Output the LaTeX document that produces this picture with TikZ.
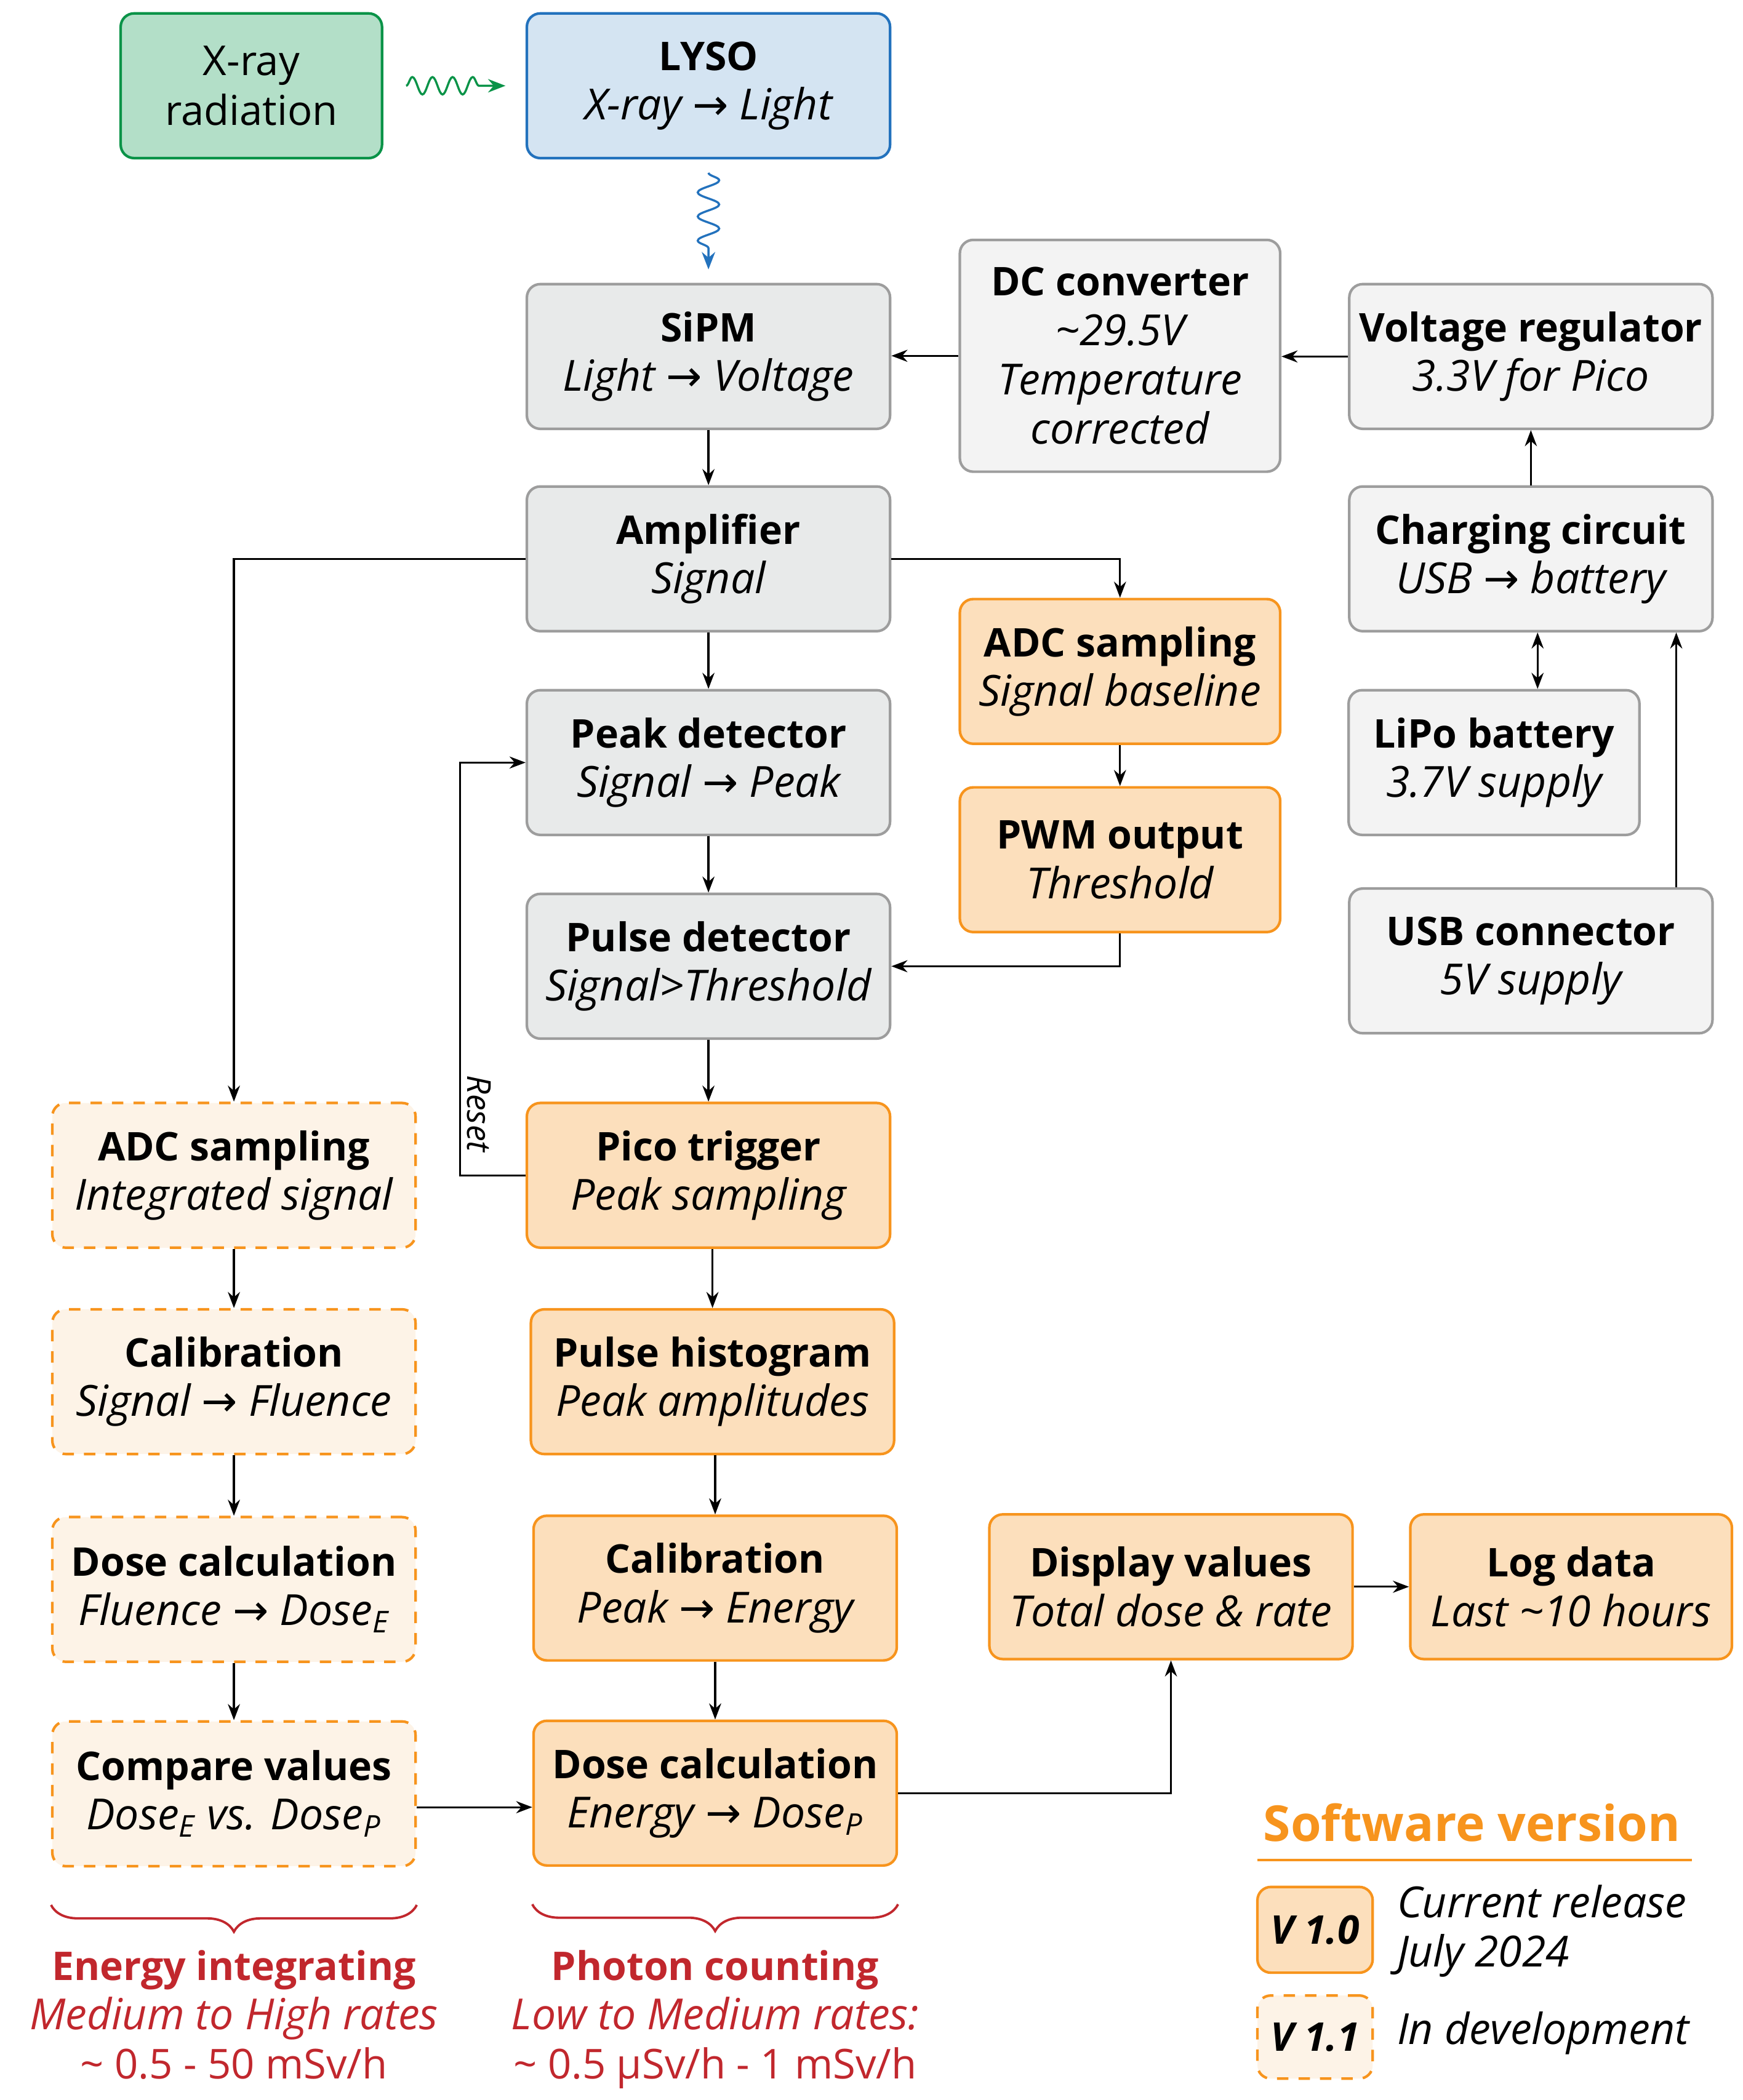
\documentclass[tikz,border=0pt]{standalone}
\usepackage{fontspec}
\setmainfont{Open Sans}
\newfontfamily\symfont{DejaVu Sans}
\newcommand\toarrow{{\symfont\mdseries\upshape →}}
\newcommand\ttl[1]{{\fontsize{16.8}{21}\selectfont\bfseries #1}}
\newcommand\dsc[1]{{\fontsize{18.2}{21}\selectfont\itshape #1}}
\usetikzlibrary{arrows.meta,decorations.pathmorphing,decorations.pathreplacing}
\definecolor{hwfill}{HTML}{E8EAEA}
\definecolor{pwrfill}{HTML}{F3F3F3}
\definecolor{hwedge}{HTML}{9D9D9D}
\definecolor{swfill}{HTML}{FCDFBC}
\definecolor{swedge}{HTML}{F7941D}
\definecolor{devfill}{HTML}{FDF3E7}
\definecolor{xgreen}{HTML}{0A9348}
\definecolor{xgreenfill}{HTML}{B3DFC8}
\definecolor{xblue}{HTML}{2372BD}
\definecolor{xbluefill}{HTML}{D4E4F2}
\definecolor{xred}{HTML}{C1272D}
\begin{document}
\begin{tikzpicture}[x=0.02cm,y=-0.02cm,font=\fontsize{17.5}{21}\selectfont,
	box/.style={rounded corners=0.2cm,line width=1.1pt,align=center,minimum width=5.42cm,minimum height=2.16cm,inner sep=2pt},
	hw/.style={box,draw=hwedge,fill=hwfill},
	pwr/.style={box,draw=hwedge,fill=pwrfill},
	sw/.style={box,draw=swedge,fill=swfill},
	dev/.style={box,draw=swedge,fill=devfill,dash pattern=on 0.17cm off 0.15cm},
	link/.style={line width=0.85pt,-{Stealth[length=0.24cm,width=0.18cm]}},
	wave/.style={line width=0.9pt,decorate,-{Stealth[length=0.26cm,width=0.2cm]}},
	modelabel/.style={text=xred,align=center}]
	\useasboundingbox (0,0) rectangle (1300,1567);
		% source and crystal
			\node[box,draw=xgreen,fill=xgreenfill,minimum width=3.9cm] (xray) at (187.5,64) {X-ray\\radiation};
			\node[box,draw=xblue,fill=xbluefill] (lyso) at (528.5,64) {\ttl{LYSO}\\\dsc{X-ray \toarrow{} Light}};
		% analog chain
			\foreach \n/\y/\hdr/\txt in {sipm/266/SiPM/Light \toarrow{} Voltage,amp/417/Amplifier/Signal,peak/569/Peak detector/Signal \toarrow{} Peak,pulse/721/Pulse detector/Signal>Threshold}{
				\node[hw] (\n) at (528.5,\y) {\ttl{\hdr}\\\dsc{\txt}};
				}
			\node[sw,minimum width=4.78cm] (adcb) at (835.5,501) {\ttl{ADC sampling}\\\dsc{Signal baseline}};
			\node[sw,minimum width=4.78cm] (pwm) at (835.5,641.5) {\ttl{PWM output}\\\dsc{Threshold}};
		% power supply
			\node[pwr,minimum width=4.78cm,minimum height=3.46cm] (dcdc) at (835.5,265.5) {\ttl{DC converter}\\\dsc{\textasciitilde29.5V}\\\dsc{Temperature}\\\dsc{corrected}};
			\node[pwr] (vreg) at (1142,266) {\ttl{Voltage regulator}\\\dsc{3.3V for Pico}};
			\node[pwr] (charge) at (1142,417) {\ttl{Charging circuit}\\\dsc{USB \toarrow{} battery}};
			\node[pwr,minimum width=4.34cm] (lipo) at (1114.5,569) {\ttl{LiPo battery}\\\dsc{3.7V supply}};
			\node[pwr] (usb) at (1142,717) {\ttl{USB connector}\\\dsc{5V supply}};
		% pico software
			\node[sw] (pico) at (528.5,877) {\ttl{Pico trigger}\\\dsc{Peak sampling}};
			\node[sw] (hist) at (531.5,1031) {\ttl{Pulse histogram}\\\dsc{Peak amplitudes}};
			\node[sw] (calp) at (533.5,1185) {\ttl{Calibration}\\\dsc{Peak \toarrow{} Energy}};
			\node[sw] (dosep) at (533.5,1338) {\ttl{Dose calculation}\\\dsc{Energy \toarrow{} Dose\textsubscript{P}}};
			\node[sw] (disp) at (873.5,1184) {\ttl{Display values}\\\dsc{Total dose \& rate}};
			\node[sw,minimum width=4.8cm] (log) at (1172,1184) {\ttl{Log data}\\\dsc{Last \textasciitilde10 hours}};
			\foreach \n/\y/\hdr/\txt in {adci/877/ADC sampling/Integrated signal,calf/1031/Calibration/Signal \toarrow{} Fluence,dosee/1186/Dose calculation/Fluence \toarrow{} Dose\textsubscript{E},cmp/1338.5/Compare values/Dose\textsubscript{E} vs. Dose\textsubscript{P}}{
				\node[dev] (\n) at (174.5,\y) {\ttl{\hdr}\\\dsc{\txt}};
				}
		% radiation
			\draw[wave,xgreen,decoration={snake,amplitude=0.13cm,segment length=0.3cm,post length=0.3cm}] ([xshift=0.34cm]xray.east) -- ([xshift=-0.3cm]lyso.west);
			\draw[wave,xblue,decoration={snake,amplitude=0.16cm,segment length=0.36cm,post length=0.3cm}] ([yshift=-0.2cm]lyso.south) -- ([yshift=0.2cm]sipm.north);
		% signal flow
			\foreach \a/\b in {sipm/amp,amp/peak,peak/pulse,pulse/pico,pico/hist,hist/calp,calp/dosep,adci/calf,calf/dosee,dosee/cmp}{
				\draw[link] (\a.south -| \b.north) -- (\b.north);
				}
			\draw[link] (amp.east) -| (adcb.north);
			\draw[link] (amp.west) -| (adci.north);
			\draw[link] (adcb) -- (pwm);
			\draw[link] (pwm.south) |- (pulse.east);
			\draw[link] (pico.west) -- ++(-49,0) |- (peak.west);
			\path (pico.west) ++(-49,-46) node[rotate=-90,anchor=south,inner sep=3pt,font=\fontsize{14}{16}\selectfont\itshape] (reset) {Reset};
			\draw[link] ([yshift=-0.2cm]cmp.east) -- ([yshift=-0.2cm]cmp.east -| dosep.west);
			\draw[link] (dosep.east) -| (disp.south);
			\draw[link] (disp) -- (log);
		% power flow
			\draw[link] (vreg.west) -- (vreg.west -| dcdc.east);
			\draw[link] (dcdc.west) -- (dcdc.west -| sipm.east);
			\draw[link] (charge) -- (vreg);
			\draw[link,{Stealth[length=0.24cm,width=0.18cm]}-{Stealth[length=0.24cm,width=0.18cm]}] ([xshift=0.1cm]charge.south) -- ([xshift=0.1cm]charge.south |- lipo.north);
			\draw[link] ([xshift=-0.56cm]usb.north east) -- ([xshift=-0.56cm]charge.south east);
		% modes
			\foreach \n in {cmp,dosep}{
				\draw[xred,line width=1pt,decorate,decoration={brace,mirror,amplitude=0.4cm}] ([yshift=-0.56cm]\n.south west) -- ([yshift=-0.56cm]\n.south east);
				}
			\node[modelabel] (eint) at (174.5,1507) {\strut\ttl{Energy integrating}\\\dsc{Medium to High rates}\\\textasciitilde{} 0.5 - 50 mSv/h\strut};
			\node[modelabel] (pcount) at (533.5,1507) {\strut\ttl{Photon counting}\\\dsc{Low to Medium rates:}\\\textasciitilde{} 0.5 µSv/h - 1 mSv/h\strut};
		% legend
			\node[text=swedge,font=\fontsize{21}{25}\selectfont\bfseries] (legend) at (1098,1360) {Software version};
			\draw[swedge,line width=1.1pt] (938,1388) -- (1262,1388);
			\node[sw,minimum width=1.72cm,minimum height=1.28cm] (v10) at (981,1440) {\ttl{\textit{V 1.0}}};
			\node[dev,minimum width=1.72cm,minimum height=1.24cm] (v11) at (981,1520) {\ttl{\textit{V 1.1}}};
			\node[anchor=west,align=left] (v10txt) at (1036,1441) {\dsc{Current release}\\\dsc{July 2024}};
			\node[anchor=west] (v11txt) at (1036,1517) {\dsc{In development}};
\end{tikzpicture}
\end{document}
